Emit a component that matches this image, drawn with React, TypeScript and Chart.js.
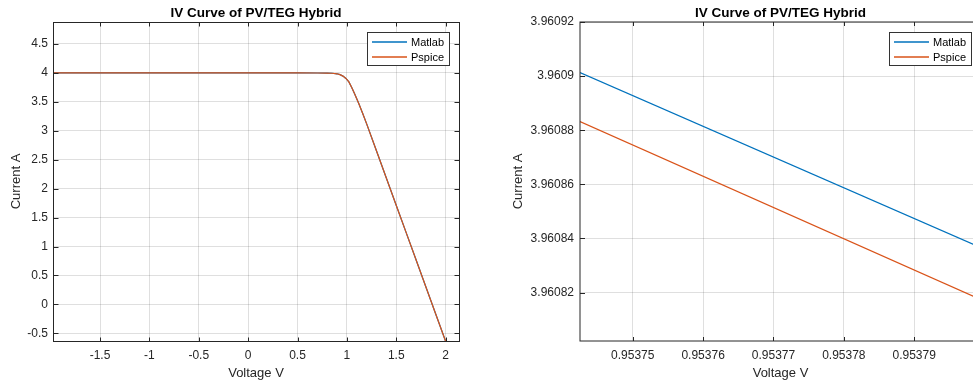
import React, { useEffect, useRef } from "react";
import { Chart, registerables } from "chart.js";

Chart.register(...registerables);

const TITLE = "IV Curve of PV/TEG Hybrid";
const X_TITLE = "Voltage V";
const Y_TITLE = "Current A";
const SERIES = ["Matlab", "Pspice"];
const COLORS = ["#0072BD", "#D95319"];

// Left panel: full IV curve
const fullVoltage = [-1.976, -1.5, -1, -0.5, 0, 0.5, 0.7, 0.8, 0.85, 0.9, 0.93, 0.96, 0.99, 1.02, 1.05, 1.08, 1.12, 1.16, 1.2, 1.3, 1.4, 1.5, 1.6, 1.7, 1.8, 1.9, 2.0];
const fullMatlab = [4.0, 4.0, 4.0, 4.0, 4.0, 3.9995, 3.999, 3.997, 3.994, 3.985, 3.97, 3.945, 3.905, 3.845, 3.745, 3.63, 3.47, 3.3, 3.12, 2.65, 2.18, 1.71, 1.24, 0.77, 0.3, -0.17, -0.64];
const fullPspice = [4.0, 4.0, 4.0, 4.0, 4.0, 3.9995, 3.999, 3.997, 3.994, 3.985, 3.97, 3.945, 3.905, 3.845, 3.745, 3.63, 3.47, 3.3, 3.12, 2.65, 2.18, 1.71, 1.24, 0.77, 0.3, -0.17, -0.64];
const fullXTicks = [-1.5, -1, -0.5, 0, 0.5, 1, 1.5, 2];
const fullXLabels = ["-1.5", "-1", "-0.5", "0", "0.5", "1", "1.5", "2"];
const fullYTicks = [-0.5, 0, 0.5, 1, 1.5, 2, 2.5, 3, 3.5, 4, 4.5];
const fullYLabels = ["-0.5", "0", "0.5", "1", "1.5", "2", "2.5", "3", "3.5", "4", "4.5"];
const fullXRange = [-1.976, 2.135];
const fullYRange = [-0.633, 4.88];

// Right panel: zoomed view
const zoomVoltage = [0.9537425, 0.9537995];
const zoomMatlab = [3.9609013, 3.9608366];
const zoomPspice = [3.9608832, 3.9608174];
const zoomXTicks = [0.95375, 0.95376, 0.95377, 0.95378, 0.95379];
const zoomXLabels = ["0.95375", "0.95376", "0.95377", "0.95378", "0.95379"];
const zoomYTicks = [3.96082, 3.96084, 3.96086, 3.96088, 3.9609, 3.96092];
const zoomYLabels = ["3.96082", "3.96084", "3.96086", "3.96088", "3.9609", "3.96092"];
const zoomXRange = [0.9537425, 0.9537995];
const zoomYRange = [3.9608021, 3.96092];

const FONT = "'Liberation Sans', Arial, Helvetica, sans-serif";
const TEXT = "#262626";

type PanelProps = {
  left: number;
  width: number;
  padRight: number;
  yAxisWidth: number;
  yTickPad: number;
  yTitlePad: number;
  crispBox: boolean;
  xs: number[];
  ys: number[][];
  xTicks: number[];
  xLabels: string[];
  yTicks: number[];
  yLabels: string[];
  xRange: number[];
  yRange: number[];
};

function framePlugin(p: PanelProps) {
  return {
    id: "frame",
    afterDraw(chart: any) {
      const { ctx, chartArea: a, scales } = chart;
      const xs = scales.x;
      const ys = scales.y;
      ctx.save();
      // axes box
      ctx.lineWidth = 1;
      ctx.strokeStyle = TEXT;
      const off = p.crispBox ? 0.5 : 0;
      const L = Math.round(a.left) + off;
      const T = Math.round(a.top) + off;
      const R = Math.round(a.right) + off;
      const B = Math.round(a.bottom) + off;
      ctx.strokeRect(L, T, R - L, B - T);
      // inward ticks on all sides
      ctx.beginPath();
      for (const v of p.xTicks) {
        const px = Math.round(xs.getPixelForValue(v)) + 0.5;
        ctx.moveTo(px, B);
        ctx.lineTo(px, B - 4);
        ctx.moveTo(px, T);
        ctx.lineTo(px, T + 4);
      }
      for (const v of p.yTicks) {
        const py = Math.round(ys.getPixelForValue(v)) + 0.5;
        ctx.moveTo(L, py);
        ctx.lineTo(L + 5, py);
        ctx.moveTo(R, py);
        ctx.lineTo(R - 5, py);
      }
      ctx.stroke();
      // title
      ctx.fillStyle = "#000";
      ctx.font = `bold 13.5px ${FONT}`;
      ctx.textAlign = "center";
      ctx.textBaseline = "alphabetic";
      ctx.fillText(TITLE, (a.left + a.right) / 2, a.top - 5);
      // legend
      const bw = 82;
      const bh = 33;
      const bx = Math.round(a.right - 10 - bw);
      const by = Math.round(a.top + 10);
      ctx.fillStyle = "#fff";
      ctx.fillRect(bx, by, bw, bh);
      ctx.lineWidth = 1;
      ctx.strokeStyle = "#333";
      ctx.strokeRect(bx + 0.5, by + 0.5, bw, bh);
      ctx.font = `11px ${FONT}`;
      ctx.textAlign = "left";
      ctx.textBaseline = "middle";
      SERIES.forEach((name, i) => {
        const cy = by + 10 + i * 15;
        ctx.strokeStyle = COLORS[i];
        ctx.lineWidth = 1.5;
        ctx.beginPath();
        ctx.moveTo(bx + 5, cy);
        ctx.lineTo(bx + 40, cy);
        ctx.stroke();
        ctx.fillStyle = "#000";
        ctx.fillText(name, bx + 44, cy + 0.5);
      });
      ctx.restore();
    },
  };
}

function Panel(p: PanelProps) {
  const ref = useRef<HTMLCanvasElement>(null);
  useEffect(() => {
    const grid = { color: "rgba(38,38,38,0.15)", lineWidth: 1, drawTicks: false };
    const chart = new Chart(ref.current as HTMLCanvasElement, {
      type: "line",
      data: {
        datasets: SERIES.map((name, i) => ({
          label: name,
          data: p.xs.map((x, k) => ({ x, y: p.ys[i][k] })),
          borderColor: COLORS[i],
          backgroundColor: COLORS[i],
          borderWidth: 1.2,
          pointRadius: 0,
          tension: 0,
          fill: false,
          order: SERIES.length - i,
        })),
      },
      options: {
        animation: false,
        responsive: false,
        events: [],
        layout: { autoPadding: false, padding: { top: 22, right: p.padRight, bottom: 0, left: 0 } },
        plugins: { legend: { display: false }, tooltip: { enabled: false }, title: { display: false } },
        scales: {
          x: {
            type: "linear",
            min: p.xRange[0],
            max: p.xRange[1],
            afterBuildTicks: (s: any) => {
              s.ticks = p.xTicks.map((v) => ({ value: v }));
            },
            afterFit: (s: any) => {
              s.height = 42;
            },
            ticks: {
              autoSkip: false,
              maxRotation: 0,
              minRotation: 0,
              padding: 7,
              color: TEXT,
              font: { family: FONT, size: 12 },
              callback: (_v: any, i: number) => p.xLabels[i],
            },
            grid,
            border: { display: false },
            title: { display: true, text: X_TITLE, color: TEXT, font: { family: FONT, size: 13 }, padding: { top: 0, bottom: 2.2 } },
          },
          y: {
            type: "linear",
            min: p.yRange[0],
            max: p.yRange[1],
            afterBuildTicks: (s: any) => {
              s.ticks = p.yTicks.map((v) => ({ value: v }));
            },
            afterFit: (s: any) => {
              s.width = p.yAxisWidth;
            },
            ticks: {
              autoSkip: false,
              padding: p.yTickPad,
              color: TEXT,
              font: { family: FONT, size: 12 },
              callback: (_v: any, i: number) => p.yLabels[i],
            },
            grid,
            border: { display: false },
            title: { display: true, text: Y_TITLE, color: TEXT, font: { family: FONT, size: 13 }, padding: { top: p.yTitlePad, bottom: 0 } },
          },
        },
      } as any,
      plugins: [framePlugin(p)],
    });
    return () => chart.destroy();
  }, []);
  return (
    <canvas
      ref={ref}
      width={p.width}
      height={383}
      style={{ position: "absolute", left: p.left, top: 0, width: p.width, height: 383 }}
    />
  );
}

export default function App() {
  return (
    <div style={{ position: "absolute", left: 0, top: 0, width: 973, height: 383, overflow: "hidden", background: "#fff" }}>
      <Panel
        left={0}
        width={480}
        padRight={21}
        yAxisWidth={53}
        yTickPad={5}
        yTitlePad={8.2}
        crispBox={true}
        xs={fullVoltage}
        ys={[fullMatlab, fullPspice]}
        xTicks={fullXTicks}
        xLabels={fullXLabels}
        yTicks={fullYTicks}
        yLabels={fullYLabels}
        xRange={fullXRange}
        yRange={fullYRange}
      />
      <Panel
        left={480}
        width={502}
        padRight={1}
        yAxisWidth={100}
        yTickPad={6}
        yTitlePad={30.2}
        crispBox={false}
        xs={zoomVoltage}
        ys={[zoomMatlab, zoomPspice]}
        xTicks={zoomXTicks}
        xLabels={zoomXLabels}
        yTicks={zoomYTicks}
        yLabels={zoomYLabels}
        xRange={zoomXRange}
        yRange={zoomYRange}
      />
    </div>
  );
}
